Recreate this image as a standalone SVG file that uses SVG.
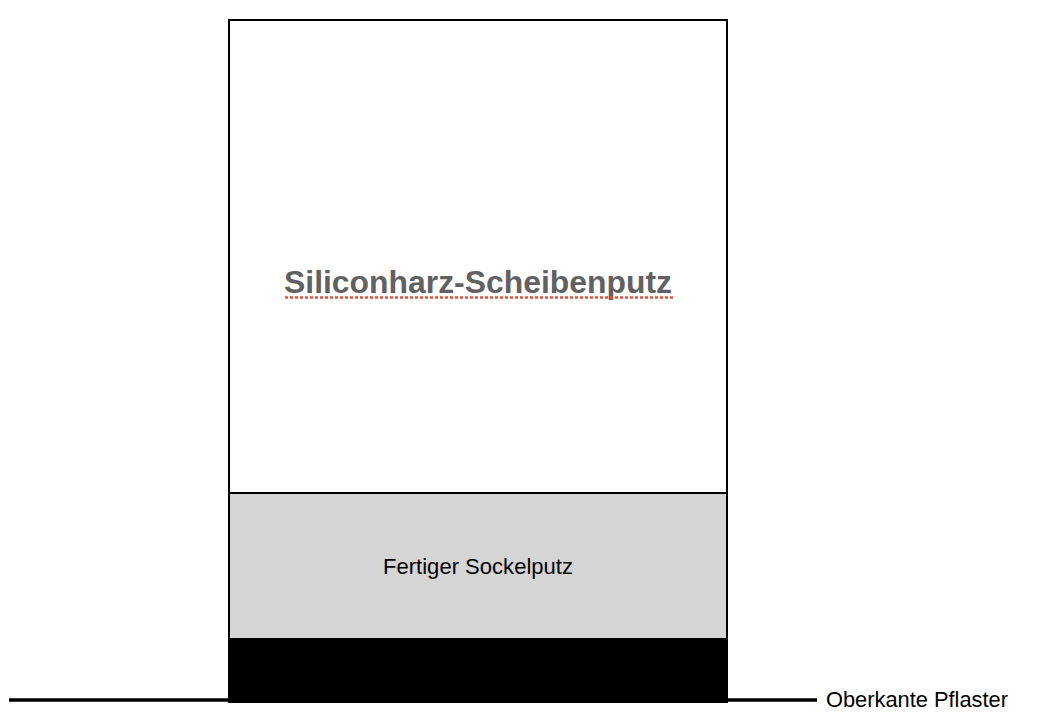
<svg xmlns="http://www.w3.org/2000/svg" width="1056" height="722" viewBox="0 0 1056 722">
<style>
.lbl{font-family:"Liberation Sans",Arial,sans-serif;fill:#000;font-size:21.5px}
.title{font-family:"Liberation Sans",Arial,sans-serif;fill:#616161;font-size:31px;font-weight:bold}
</style>
<rect width="1056" height="722" fill="#fff"/>
<g id="ground">
<line x1="9" y1="700" x2="230" y2="700" stroke="#000" stroke-width="3.5"/>
<line x1="726" y1="700" x2="817" y2="700" stroke="#000" stroke-width="3.5"/>
</g>
<g id="scheibenputz">
<rect x="229" y="20" width="498" height="473" fill="#fff" stroke="#000" stroke-width="2"/>
<text class="title" x="478" y="293" text-anchor="middle" textLength="388" lengthAdjust="spacingAndGlyphs">Siliconharz-Scheibenputz</text>
<line x1="285" y1="297.5" x2="673" y2="297.5" stroke="#e8503a" stroke-width="2.5" stroke-dasharray="3,2"/>
</g>
<g id="sockelputz">
<rect x="229" y="493" width="498" height="146" fill="#d5d5d5" stroke="#000" stroke-width="2"/>
<text class="lbl" x="478" y="574" text-anchor="middle" textLength="190" lengthAdjust="spacingAndGlyphs">Fertiger Sockelputz</text>
</g>
<g id="sockel">
<rect x="228" y="639" width="500" height="64" fill="#000"/>
</g>
<g id="pflaster-label">
<text class="lbl" x="826" y="707" textLength="182" lengthAdjust="spacingAndGlyphs">Oberkante Pflaster</text>
</g>
</svg>
